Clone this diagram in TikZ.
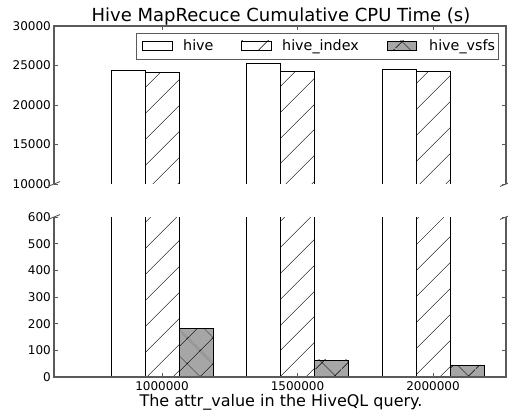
\documentclass[tikz,border=0pt]{standalone}
\usepackage{fontspec}
\setmainfont{DejaVu Sans}
\usepackage{xcolor}
\usepackage{tikz}
\usetikzlibrary{calc, patterns.meta}

\definecolor{spinegray}{HTML}{5A5A5A}
\definecolor{vsfsgray}{HTML}{A6A6A6}

\begin{document}
\begin{tikzpicture}[x=1pt, y=1pt]
    \tikzset{
        spine/.style={draw=spinegray, line width=1.1pt},
        tickmark/.style={draw=spinegray, line width=0.8pt},
        hivebar/.style={draw=black, line width=0.7pt, fill=white},
        indexbar/.style={draw=black, line width=0.7pt,
            pattern={Lines[angle=45, distance=18.9pt, line width=0.6pt]}},
        vsfsbar/.style={draw=black, line width=0.7pt, preaction={fill=vsfsgray},
            pattern={Hatch[angle=45, distance=18.9pt, line width=0.6pt]}},
        ticklabel/.style={font=\fontsize{12}{14}\selectfont, inner sep=0pt},
        legendtext/.style={font=\fontsize{14.3}{16}\selectfont, inner sep=0pt, anchor=base west}
    }
    \useasboundingbox (0,0) rectangle (508,415);

    % upper part, in thousands: 10 .. 30
    \begin{scope}[shift={(0,152)}, y=7.9pt]
        \foreach \cx/\hv/\iv in {162/24.4/24.1, 297.5/25.3/24.2, 433/24.5/24.3} {
            \draw[hivebar] ({\cx-51},10) -- ({\cx-51},\hv) -- ({\cx-17},\hv) -- ({\cx-17},10);
            \draw[indexbar] ({\cx-17},10) -- ({\cx-17},\iv) -- ({\cx+17},\iv) -- ({\cx+17},10);
            \draw[tickmark] (\cx,30) -- ++(0,-4pt);
        }
        \foreach \v in {10,15,20,25,30} {
            \draw[tickmark] (54,\v) -- ++(4pt,0);
            \draw[tickmark] (506,\v) -- ++(-4pt,0);
            \node[ticklabel, anchor=east] (ylab\v) at (51,\v) {\v000};
        }
        \coordinate (ul) at (54,10);
        \coordinate (ur) at (506,10);
        \draw[spine] (ul) -- (54,30) -- (506,30) -- (ur);
    \end{scope}

    % lower part, 0 .. 600
    \begin{scope}[shift={(0,38)}, y=0.26667pt]
        \foreach \cx/\sv in {162/182, 297.5/64, 433/43} {
            \draw[hivebar] ({\cx-51},600) -- ({\cx-51},0) -- ({\cx-17},0) -- ({\cx-17},600);
            \draw[indexbar] ({\cx-17},600) -- ({\cx-17},0) -- ({\cx+17},0) -- ({\cx+17},600);
            \draw[vsfsbar] ({\cx+17},0) rectangle ({\cx+51},\sv);
            \draw[tickmark] (\cx,0) -- ++(0,4pt);
        }
        \foreach \v in {0,100,...,600} {
            \draw[tickmark] (54,\v) -- ++(4pt,0);
            \draw[tickmark] (506,\v) -- ++(-4pt,0);
            \node[ticklabel, anchor=east] (ylow\v) at (51,\v) {\v};
        }
        \coordinate (ll) at (54,600);
        \coordinate (lr) at (506,600);
        \draw[spine] (ll) -- (54,0) -- (506,0) -- (lr);
    \end{scope}

    % break marks
    \foreach \p in {ul,ur,ll,lr}
        \draw[spinegray, line width=0.9pt] ($(\p)+(-6,-2.4)$) -- ($(\p)+(6,2.4)$);

    \foreach \cx/\t in {162/1000000, 297.5/1500000, 433/2000000}
        \node[ticklabel, anchor=north] (xlab\t) at (\cx,33.5) {\t};

    % legend
    \draw[spinegray, line width=0.9pt, fill=white] (136,356) rectangle (498,382);
    \draw[hivebar] (142,365) rectangle (172,374);
    \draw[indexbar] (241,365) rectangle (271,374);
    \draw[vsfsbar] (387,365) rectangle (416,374);
    \node[legendtext] (leghive) at (183,364) {hive};
    \node[legendtext] (legindex) at (282,364) {hive\_index};
    \node[legendtext] (legvsfs) at (429,364) {hive\_vsfs};

    \node[font=\fontsize{18}{20}\selectfont, anchor=base, inner sep=0pt] (title) at (281,393)
        {Hive MapRecuce Cumulative CPU Time (s)};
    \node[font=\fontsize{16}{18}\selectfont, anchor=base, inner sep=0pt] (xlabel) at (281,9)
        {The attr\_value in the HiveQL query.};
\end{tikzpicture}
\end{document}
